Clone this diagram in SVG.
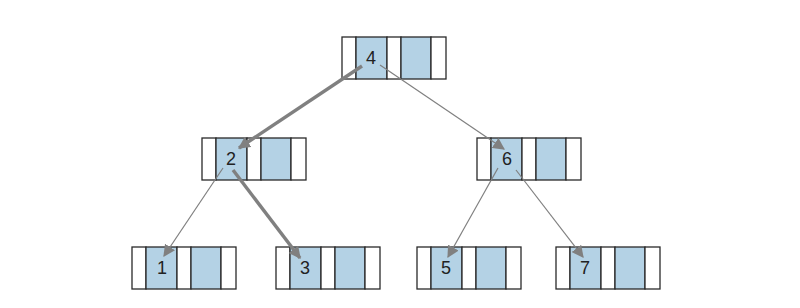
<svg xmlns="http://www.w3.org/2000/svg" width="800" height="308" viewBox="0 0 800 308">
<defs>
<style>
.w{fill:#ffffff;stroke:#2a2a2a;stroke-width:1.3}
.b{fill:#b4d2e5;stroke:#2a2a2a;stroke-width:1.3}
.t{font-family:"Liberation Sans",Arial,sans-serif;font-size:18px;fill:#222;text-anchor:middle}
.thin{stroke:#808080;stroke-width:1.2;fill:none;marker-end:url(#ah)}
.thick{stroke:#808080;stroke-width:3.4;fill:none;marker-end:url(#ahs)}
</style>
<marker id="ah" viewBox="0 0 10 10" refX="9" refY="5" markerWidth="12" markerHeight="12" markerUnits="userSpaceOnUse" orient="auto">
<path d="M0,0 L10,5 L0,10 z" fill="#808080"/>
</marker>
<marker id="ahs" viewBox="0 0 10 10" refX="9" refY="5" markerWidth="12" markerHeight="12" markerUnits="userSpaceOnUse" orient="auto">
<path d="M0,0 L10,5 L0,10 z" fill="#808080"/>
</marker>
<g id="cells">
<rect class="w" x="0" y="0" width="14" height="42"/>
<rect class="b" x="14" y="0" width="31" height="42"/>
<rect class="w" x="45" y="0" width="14" height="42"/>
<rect class="b" x="59" y="0" width="30" height="42"/>
<rect class="w" x="89" y="0" width="15" height="42"/>
</g>
</defs>
<rect width="800" height="308" fill="#ffffff"/>
<g id="n4"><use href="#cells" x="342" y="37"/><text class="t" x="371" y="64">4</text></g>
<g id="n2"><use href="#cells" x="202" y="138"/><text class="t" x="231" y="165">2</text></g>
<g id="n6"><use href="#cells" x="477" y="138"/><text class="t" x="507" y="165">6</text></g>
<g id="n1"><use href="#cells" x="132" y="247"/><text class="t" x="162" y="274">1</text></g>
<g id="n3"><use href="#cells" x="276" y="247"/><text class="t" x="305" y="274">3</text></g>
<g id="n5"><use href="#cells" x="417" y="247"/><text class="t" x="446" y="274">5</text></g>
<g id="n7"><use href="#cells" x="556" y="247"/><text class="t" x="585" y="274">7</text></g>
<g id="connectors">
<line class="thick" x1="362" y1="66" x2="239" y2="148"/>
<line class="thin" x1="380" y1="65" x2="504" y2="149"/>
<line class="thin" x1="223" y1="168" x2="164" y2="256"/>
<line class="thick" x1="233" y1="170" x2="300" y2="258"/>
<line class="thin" x1="498" y1="168" x2="448" y2="257"/>
<line class="thin" x1="516" y1="170" x2="583" y2="257"/>
</g>
</svg>
